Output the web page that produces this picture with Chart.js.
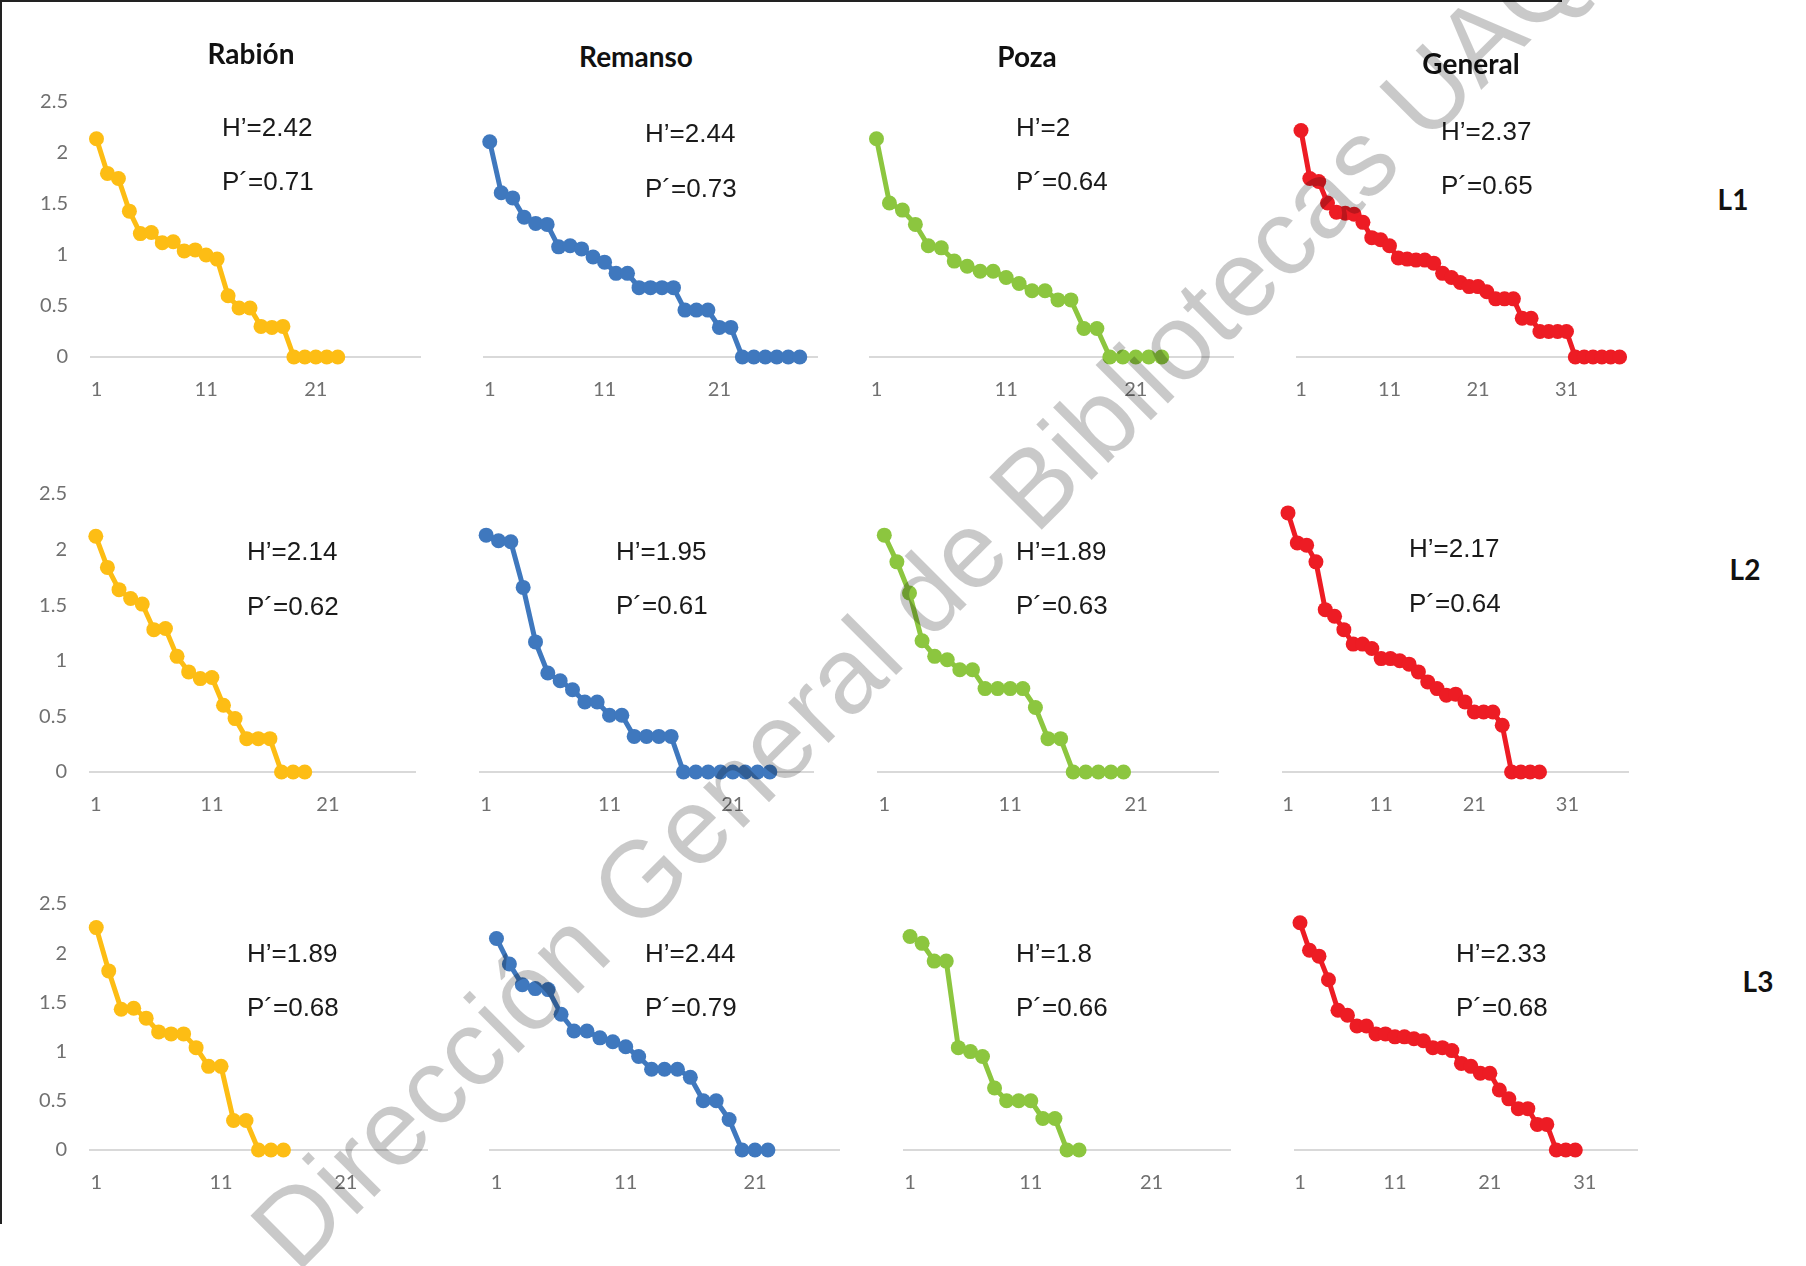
<!DOCTYPE html>
<html>
<head>
<meta charset="utf-8">
<script src="https://cdn.jsdelivr.net/npm/chart.js@4.4.1/dist/chart.umd.min.js"></script>
<style>
  html, body { margin: 0; padding: 0; background: #fff; }
  #page { position: relative; width: 1806px; height: 1266px; overflow: hidden; background: #fff; }
  #page canvas { position: absolute; }
  .title { position: absolute; font: bold 28px Lato, sans-serif; color: #111; transform: translate(-50%, -50%); white-space: nowrap; }
  .note { position: absolute; font: 26px "Liberation Sans", Arial, sans-serif; color: #1a1a1a; line-height: 1; white-space: nowrap; }
  #frame { position: absolute; left: 0; top: 0; width: 1560px; height: 1222px; border-top: 2px solid #222; border-left: 2px solid #222; }
  #mark { position: absolute; font: 108px "Liberation Sans", Arial, sans-serif; color: rgba(0,0,0,0.21); line-height: 1; white-space: nowrap;
          transform: translate(-50%, -50%) rotate(-45deg); pointer-events: none; z-index: 5; }
</style>
</head>
<body>
<div id="page"><div id="frame"></div></div>
<script>
// ranked abundance (log) per habitat and site
const rabionL1  = [2.14, 1.80, 1.75, 1.43, 1.21, 1.22, 1.12, 1.13, 1.04, 1.05, 1.00, 0.96, 0.60, 0.48, 0.48, 0.30, 0.29, 0.30, 0, 0, 0, 0, 0];
const remansoL1 = [2.11, 1.61, 1.56, 1.37, 1.31, 1.30, 1.08, 1.09, 1.06, 0.98, 0.93, 0.82, 0.82, 0.68, 0.68, 0.68, 0.68, 0.46, 0.46, 0.46, 0.29, 0.29, 0, 0, 0, 0, 0, 0];
const pozaL1    = [2.14, 1.51, 1.44, 1.30, 1.09, 1.07, 0.94, 0.89, 0.84, 0.84, 0.78, 0.72, 0.65, 0.65, 0.56, 0.56, 0.28, 0.28, 0, 0, 0, 0, 0];
const generalL1 = [2.22, 1.75, 1.72, 1.51, 1.42, 1.41, 1.40, 1.32, 1.17, 1.15, 1.09, 0.97, 0.96, 0.95, 0.95, 0.92, 0.82, 0.78, 0.73, 0.69, 0.69, 0.64, 0.57, 0.57, 0.57, 0.38, 0.38, 0.25, 0.25, 0.25, 0.25, 0, 0, 0, 0, 0, 0];

const rabionL2  = [2.12, 1.84, 1.64, 1.56, 1.51, 1.28, 1.29, 1.04, 0.90, 0.84, 0.85, 0.60, 0.48, 0.30, 0.30, 0.30, 0, 0, 0];
const remansoL2 = [2.13, 2.08, 2.07, 1.66, 1.17, 0.89, 0.82, 0.74, 0.63, 0.63, 0.51, 0.51, 0.32, 0.32, 0.32, 0.32, 0, 0, 0, 0, 0, 0, 0, 0];
const pozaL2    = [2.13, 1.89, 1.61, 1.18, 1.04, 1.01, 0.92, 0.92, 0.75, 0.75, 0.75, 0.75, 0.58, 0.30, 0.30, 0, 0, 0, 0, 0];
const generalL2 = [2.33, 2.06, 2.04, 1.89, 1.46, 1.40, 1.28, 1.15, 1.15, 1.11, 1.02, 1.02, 1.00, 0.97, 0.90, 0.81, 0.75, 0.69, 0.70, 0.63, 0.54, 0.54, 0.54, 0.42, 0, 0, 0, 0];

const rabionL3  = [2.26, 1.82, 1.43, 1.44, 1.34, 1.20, 1.18, 1.18, 1.04, 0.85, 0.85, 0.30, 0.30, 0, 0, 0];
const remansoL3 = [2.15, 1.89, 1.68, 1.64, 1.63, 1.38, 1.21, 1.21, 1.14, 1.10, 1.05, 0.95, 0.82, 0.82, 0.82, 0.74, 0.50, 0.50, 0.31, 0, 0, 0];
const pozaL3    = [2.17, 2.10, 1.92, 1.92, 1.04, 1.00, 0.95, 0.63, 0.50, 0.50, 0.50, 0.32, 0.32, 0, 0];
const generalL3 = [2.31, 2.03, 1.97, 1.73, 1.42, 1.37, 1.26, 1.26, 1.18, 1.18, 1.15, 1.15, 1.13, 1.11, 1.04, 1.04, 1.01, 0.88, 0.85, 0.78, 0.78, 0.61, 0.52, 0.42, 0.42, 0.26, 0.26, 0, 0, 0];

const habitats = ['Rabión', 'Remanso', 'Poza', 'General'];
const sites = ['L1', 'L2', 'L3'];
const hValues = [['2.42', '2.44', '2', '2.37'], ['2.14', '1.95', '1.89', '2.17'], ['1.89', '2.44', '1.8', '2.33']];
const pValues = [['0.71', '0.73', '0.64', '0.65'], ['0.62', '0.61', '0.63', '0.64'], ['0.68', '0.79', '0.66', '0.68']];
const categoryCounts = [[30, 29, 28, 37], [28, 27, 27, 37], [27, 27, 27, 36]];
const xTickLabels = ['1', '11', '21', '31'];
const yMax = 2.5;
const yStep = 0.5;

const series = [
  [rabionL1, remansoL1, pozaL1, generalL1],
  [rabionL2, remansoL2, pozaL2, generalL2],
  [rabionL3, remansoL3, pozaL3, generalL3],
];

const COLORS = ['#FDBD14', '#3F78BE', '#8CC63F', '#ED1C24'];

// plot areas [left, right, top(2.5), bottom(0)]
const boxes = [
  [[91, 420, 102, 357], [484, 817, 102, 357], [870, 1233, 102, 357], [1296, 1624, 102, 357]],
  [[90, 415, 494, 772], [480, 813, 494, 772], [878, 1218, 494, 772], [1283, 1628, 494, 772]],
  [[90, 427, 904, 1150], [490, 839, 904, 1150], [904, 1230, 904, 1150], [1295, 1637, 904, 1150]],
];
const notePos = [
  [[222, 127, 181], [645, 133, 188], [1016, 127, 181], [1441, 131, 185]],
  [[247, 551, 606], [616, 551, 605], [1016, 551, 605], [1409, 548, 603]],
  [[247, 953, 1007], [645, 953, 1007], [1016, 953, 1007], [1456, 953, 1007]],
];
const titlePos = [[251, 53], [636, 56], [1027, 56], [1471, 63]];
const sitePos = [[1733, 199], [1745, 569], [1758, 981]];

const page = document.getElementById('page');
const Y_W = 60, X_H = 45, PAD = 14;

function addText(cls, text, x, y) {
  const d = document.createElement('div');
  d.className = cls;
  d.textContent = text;
  d.style.left = x + 'px';
  d.style.top = y + 'px';
  page.appendChild(d);
  return d;
}

function panel(r, c) {
  const [L, R, T, B] = boxes[r][c];
  const yW = c === 0 ? Y_W : 0;
  const canvas = document.createElement('canvas');
  const w = (R - L) + 2 * PAD + yW;
  const h = (B - T) + PAD + X_H;
  canvas.width = w; canvas.height = h;
  canvas.style.left = (L - PAD - yW) + 'px';
  canvas.style.top = (T - PAD) + 'px';
  canvas.style.width = w + 'px'; canvas.style.height = h + 'px';
  page.appendChild(canvas);

  const labels = Array.from({ length: categoryCounts[r][c] }, (_, i) => String(i + 1));
  const yAxis = {
    display: c === 0,
    min: 0, max: yMax,
    grid: { display: true, drawOnChartArea: false, drawTicks: true, tickLength: 23, color: 'rgba(0,0,0,0)' },
    border: { display: false },
    ticks: {
      stepSize: yStep, padding: 0, color: '#707070', font: { family: 'Lato', size: 20 },
      callback: v => String(v),
    },
  };
  if (c === 0) yAxis.afterFit = s => { s.width = Y_W; };

  return new Chart(canvas.getContext('2d'), {
    type: 'line',
    data: {
      labels,
      datasets: [{
        data: series[r][c],
        borderColor: COLORS[c],
        backgroundColor: COLORS[c],
        borderWidth: 5,
        pointRadius: 7.5,
        pointBorderWidth: 0,
        pointBackgroundColor: COLORS[c],
        tension: 0,
        clip: false,
      }],
    },
    options: {
      responsive: false,
      animation: false,
      layout: { padding: { left: PAD, right: PAD, top: PAD, bottom: 0 } },
      plugins: { legend: { display: false }, tooltip: { enabled: false } },
      scales: {
        x: {
          offset: true,
          grid: { display: false },
          border: { display: true, color: '#d9d9d9', width: 2 },
          ticks: {
            autoSkip: false, maxRotation: 0, padding: 13,
            color: '#707070', font: { family: 'Lato', size: 20 },
            callback(v) {
              const s = this.getLabelForValue(v);
              return xTickLabels.includes(s) ? s : '';
            },
          },
          afterFit(s) { s.height = X_H; },
        },
        y: yAxis,
      },
    },
  });
}

sites.forEach((site, r) => {
  habitats.forEach((hab, c) => {
    panel(r, c);
    const [nx, hy, py] = notePos[r][c];
    addText('note', 'H\u2019=' + hValues[r][c], nx, hy - 13);
    addText('note', 'P\u00b4=' + pValues[r][c], nx, py - 13);
  });
  addText('title', site, sitePos[r][0], sitePos[r][1]);
});
habitats.forEach((hab, c) => addText('title', hab, titlePos[c][0], titlePos[c][1]));

const mark = addText('', 'Dirección General de Bibliotecas UAQ', 918, 601);
mark.id = 'mark';
</script>
</body>
</html>
